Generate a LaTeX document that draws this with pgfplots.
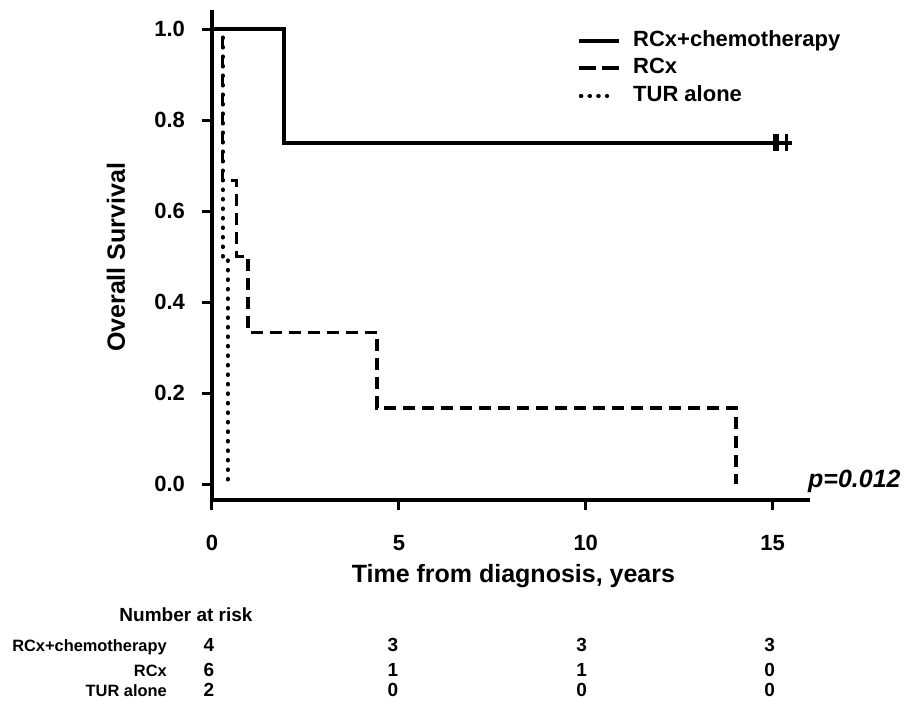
\documentclass[border=0pt]{standalone}
\usepackage{fontspec}
\setmainfont{Liberation Sans}
\usepackage{pgfplots}
\pgfplotsset{compat=1.18}

\newcommand{\fs}[1]{\fontsize{#1}{#1}\selectfont\bfseries}

\begin{document}
\begin{tikzpicture}
\begin{axis}[
    anchor=south west, at={(0,0)},
    width=299pt, height=245pt, scale only axis,
    xmin=0, xmax=16, ymin=-0.035, ymax=1.042,
    axis lines=left,
    axis line style={-, line width=1.75pt},
    tick style={line width=1.5pt, black},
    major tick length=5pt, tick align=outside,
    xtick={0,5,10,15}, ytick={0,0.2,0.4,0.6,0.8,1.0},
    yticklabel style={/pgf/number format/.cd, fixed, fixed zerofill, precision=1},
    /pgf/number format/assume math mode=true,
    tick label style={font=\fs{11}},
    xticklabel shift=9pt, yticklabel shift=5pt,
    xlabel={Time from diagnosis, years}, ylabel={Overall Survival},
    xlabel style={font=\fs{12.5}, at={(axis description cs:0.504,-0.169)}, anchor=base},
    ylabel style={font=\fs{12.5}, at={(axis description cs:-0.1455,0.495)}, anchor=base},
    clip=false,
    legend style={draw=none, fill=none, inner sep=0pt,
        at={(axis description cs:0.61,0.959)}, anchor=north west,
        font=\fs{11}, row sep=3.25pt,
        nodes={inner sep=0pt, text height=8pt, text depth=2.5pt}},
    legend cell align=left,
    /tikz/every odd column/.append style={column sep=6pt},
    legend image code/.code={\draw[#1] (0pt,0pt) -- (20pt,0pt);},
]
\addlegendimage{line width=2pt}
\addlegendentry{RCx+chemotherapy}
\addlegendimage{line width=2pt, dash pattern=on 8.5pt off 3pt}
\addlegendentry{RCx}
\addlegendimage{legend image code/.code={\draw[line width=2pt, line cap=round, dash pattern=on 0.3pt off 4.05pt] (0.8pt,0pt) -- (14pt,0pt);}}
\addlegendentry{TUR alone}

% TUR alone
\addplot[line width=2pt, line cap=round, dash pattern=on 0.3pt off 4.45pt, forget plot] coordinates {
    (0,1) (0.285,1) (0.285,0.5) (0.42,0.5) (0.42,0.005)
};
% RCx
\addplot[line width=1.8pt, dash pattern=on 6pt off 3.5pt, forget plot] coordinates {
    (0,1) (0.285,1) (0.285,0.667) (0.66,0.667) (0.66,0.5) (0.97,0.5)
    (0.97,0.333) (4.41,0.333) (4.41,0.167) (14.02,0.167) (14.02,0)
};
% RCx+chemotherapy
\addplot[line width=1.8pt, forget plot] coordinates {
    (0,1) (1.92,1) (1.92,0.75) (15.53,0.75)
};
\addplot[only marks, mark=|, mark size=4.25pt, mark options={line width=1.5pt}, forget plot] coordinates {
    (15.04,0.75) (15.12,0.75) (15.37,0.75)
};

\node[anchor=base west, inner sep=0pt, font=\fontsize{12.5}{12.5}\selectfont\bfseries\itshape]
    at (axis cs:15.94,-0.007) {p=0.012};

% number at risk
\node[anchor=base, inner sep=0pt, font=\fs{9.5}] at (axis cs:-0.695,-0.303) {Number at risk};
\node[anchor=base east, inner sep=0pt, font=\fs{8.2}] at (axis cs:-1.2,-0.369) {RCx+chemotherapy};
\node[anchor=base east, inner sep=0pt, font=\fs{8.2}] at (axis cs:-1.2,-0.424) {RCx};
\node[anchor=base east, inner sep=0pt, font=\fs{8.2}] at (axis cs:-1.2,-0.468) {TUR alone};

\node[anchor=base, inner sep=0pt, font=\fs{9.5}] at (axis cs:-0.08,-0.369) {4};
\node[anchor=base, inner sep=0pt, font=\fs{9.5}] at (axis cs:-0.08,-0.424) {6};
\node[anchor=base, inner sep=0pt, font=\fs{9.5}] at (axis cs:-0.08,-0.468) {2};
\node[anchor=base, inner sep=0pt, font=\fs{9.5}] at (axis cs:4.84,-0.369) {3};
\node[anchor=base, inner sep=0pt, font=\fs{9.5}] at (axis cs:4.84,-0.424) {1};
\node[anchor=base, inner sep=0pt, font=\fs{9.5}] at (axis cs:4.84,-0.468) {0};
\node[anchor=base, inner sep=0pt, font=\fs{9.5}] at (axis cs:9.89,-0.369) {3};
\node[anchor=base, inner sep=0pt, font=\fs{9.5}] at (axis cs:9.89,-0.424) {1};
\node[anchor=base, inner sep=0pt, font=\fs{9.5}] at (axis cs:9.89,-0.468) {0};
\node[anchor=base, inner sep=0pt, font=\fs{9.5}] at (axis cs:14.92,-0.369) {3};
\node[anchor=base, inner sep=0pt, font=\fs{9.5}] at (axis cs:14.92,-0.424) {0};
\node[anchor=base, inner sep=0pt, font=\fs{9.5}] at (axis cs:14.92,-0.468) {0};
\end{axis}
\pgfresetboundingbox
\path[use as bounding box] (-106pt,-102pt) rectangle (346.5pt,250pt);
\end{tikzpicture}
\end{document}
